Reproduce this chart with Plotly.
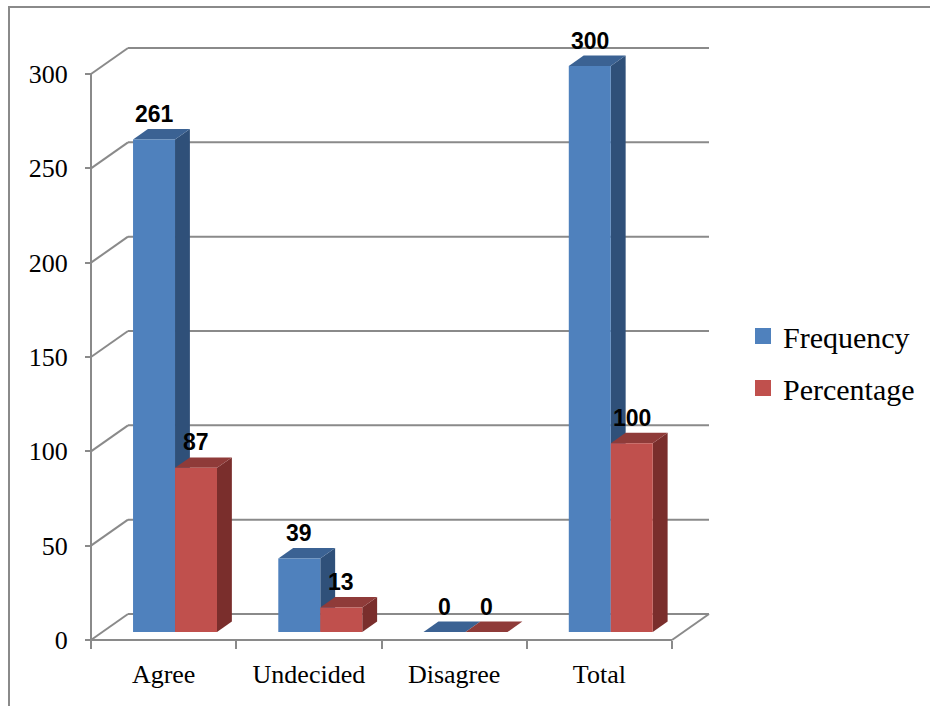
import plotly.graph_objects as go

# ---- data ----
categories = ["Agree", "Undecided", "Disagree", "Total"]
frequency = [261, 39, 0, 300]
percentage = [87, 13, 0, 100]
y_ticks = [0, 50, 100, 150, 200, 250, 300]

series_names = ["Frequency", "Percentage"]
series_values = [frequency, percentage]
front_colors = ["#4F81BD", "#C0504D"]
side_colors = ["#2F5079", "#7A2E2C"]
top_colors = ["#3B6293", "#8F3B39"]

GRID = "#8A8A8A"
SERIF = "Liberation Serif, Times New Roman, serif"
SANS = "Liberation Sans, Arial, sans-serif"

# ---- pseudo-3D geometry ----
PX_PER_CAT = 145.25            # pixels per category slot
PX_PER_VAL = 566 / 300         # pixels per value unit
DEPTH_X = 37 / PX_PER_CAT      # back-wall shift, category units
DEPTH_Y = 26 / PX_PER_VAL      # back-wall shift, value units
BAR_W = 0.289                  # bar width, category units
T_FRONT = 0.308                # depth fraction of bar front faces
T_BACK = 0.71                  # depth fraction of bar back faces
PAD = 6                        # px of breathing room inside the plot area

W, H = 930, 706
ncat = len(categories)
x_lo, x_hi = -0.5, ncat - 0.5
y_top = max(y_ticks)

plot_w = (x_hi - x_lo + DEPTH_X) * PX_PER_CAT + 2 * PAD
plot_h = (y_top + DEPTH_Y) * PX_PER_VAL + 2 * PAD
ML, MT = 85, 42
MR = W - ML - plot_w
MB = H - MT - plot_h


def proj(x, v, t):
    """Project a point at depth fraction t onto the front plane."""
    return x + t * DEPTH_X, v + t * DEPTH_Y


def path(points):
    return "M " + " L ".join(f"{x},{y}" for x, y in points) + " Z"


fig = go.Figure()
shapes = []

# ---- walls and floor ----
def seg(p0, p1, width=2):
    shapes.append(dict(type="line", xref="x", yref="y", layer="below",
                       x0=p0[0], y0=p0[1], x1=p1[0], y1=p1[1],
                       line=dict(color=GRID, width=width)))

for v in y_ticks:
    seg(proj(x_lo, v, 0), proj(x_lo, v, 1))          # side wall
    seg(proj(x_lo, v, 1), proj(x_hi, v, 1))          # back wall
seg(proj(x_lo, 0, 0), proj(x_lo, y_top, 0))          # value axis
seg(proj(x_lo, 0, 0), proj(x_hi, 0, 0))              # floor front edge
seg(proj(x_hi, 0, 0), proj(x_hi, 0, 1))              # floor right edge

# ---- bars: front faces as Bar traces, sides/tops as shapes ----
offsets = [-BAR_W, 0.0]
for s, (name, vals) in enumerate(zip(series_names, series_values)):
    fig.add_trace(go.Bar(
        x=list(range(ncat)), y=vals, base=T_FRONT * DEPTH_Y,
        offset=offsets[s] + T_FRONT * DEPTH_X, width=BAR_W,
        marker=dict(color=front_colors[s], line=dict(width=0)),
        name=name, showlegend=False, hoverinfo="skip"))

annotations = []
for i in range(ncat):
    for s, vals in enumerate(series_values):
        v = vals[i]
        xl = i + offsets[s]
        xr = xl + BAR_W
        side = [proj(xr, 0, T_FRONT), proj(xr, 0, T_BACK),
                proj(xr, v, T_BACK), proj(xr, v, T_FRONT)]
        top = [proj(xl, v, T_FRONT), proj(xr, v, T_FRONT),
               proj(xr, v, T_BACK), proj(xl, v, T_BACK)]
        shapes.append(dict(type="path", xref="x", yref="y", layer="below",
                           path=path(side), fillcolor=side_colors[s],
                           line=dict(width=0)))
        shapes.append(dict(type="path", xref="x", yref="y", layer="below",
                           path=path(top), fillcolor=top_colors[s],
                           line=dict(width=0)))
        cx, _ = proj((xl + xr) / 2, v, T_FRONT)
        _, cy = proj(xl, v, T_BACK)
        annotations.append(dict(x=cx, y=cy, xref="x", yref="y",
                                text=f"<b>{v}</b>",
                                showarrow=False, yanchor="middle", yshift=15,
                                font=dict(family=SANS, size=23, color="black")))

# legend entries
for s, name in enumerate(series_names):
    fig.add_trace(go.Scatter(
        x=[None], y=[None], mode="markers", name=name, legendgroup=name,
        marker=dict(symbol="square", size=16, color=front_colors[s]),
        hoverinfo="skip"))

# outer frame
shapes.append(dict(type="rect", xref="paper", yref="paper",
                   x0=(9 - ML) / plot_w, x1=(W + 20 - ML) / plot_w,
                   y0=-(H + 20 - MT - plot_h) / plot_h, y1=(MT + plot_h - 7) / plot_h,
                   line=dict(color=GRID, width=2), fillcolor="rgba(0,0,0,0)",
                   layer="below"))

fig.update_layout(
    width=W, height=H,
    margin=dict(l=ML, r=MR, t=MT, b=MB, pad=0, autoexpand=False),
    paper_bgcolor="white", plot_bgcolor="rgba(0,0,0,0)",
    barmode="overlay",
    shapes=shapes, annotations=annotations,
    showlegend=True,
    legend=dict(x=(743 - ML) / plot_w, y=(H - MB - 362) / plot_h,
                xanchor="left", yanchor="middle",
                font=dict(family=SERIF, size=30, color="black"),
                tracegroupgap=10, bgcolor="rgba(0,0,0,0)"),
    xaxis=dict(range=[x_lo - PAD / PX_PER_CAT, x_hi + DEPTH_X + PAD / PX_PER_CAT],
               tickmode="array", tickvals=list(range(ncat)), ticktext=categories,
               ticks="", showgrid=False, zeroline=False, showline=False,
               anchor="free", position=PAD / plot_h,
               minor=dict(tickmode="array",
                          tickvals=[i - 0.5 for i in range(ncat + 1)],
                          ticks="outside", ticklen=8, tickwidth=2,
                          tickcolor=GRID, showgrid=False),
               tickfont=dict(family=SERIF, size=26, color="black"),
               ticklabelstandoff=16, fixedrange=True),
    yaxis=dict(range=[-PAD / PX_PER_VAL, y_top + DEPTH_Y + PAD / PX_PER_VAL],
               tickmode="array", tickvals=y_ticks,
               ticks="outside", ticklen=6, tickwidth=2, tickcolor=GRID,
               showgrid=False, zeroline=False, showline=False,
               anchor="free", position=PAD / plot_w,
               tickfont=dict(family=SERIF, size=26, color="black"),
               ticklabelstandoff=12, fixedrange=True),
)

fig.write_html("out.html")
